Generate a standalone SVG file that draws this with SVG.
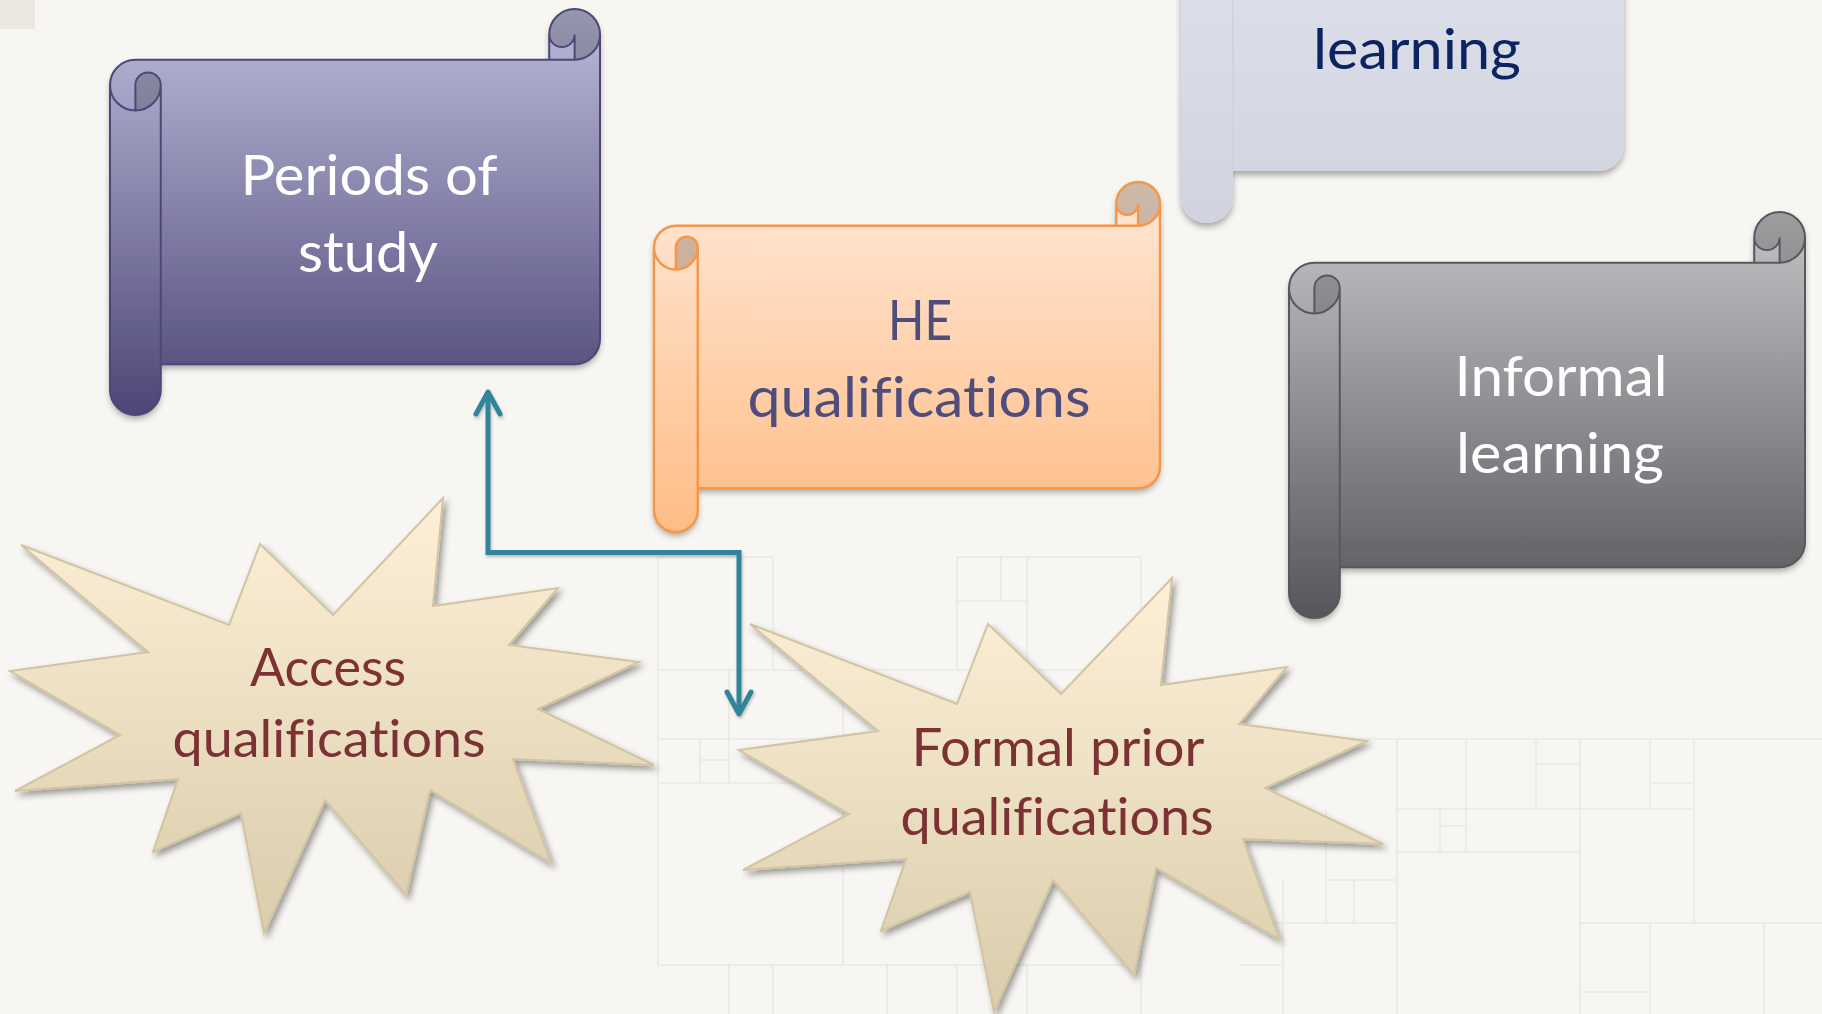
<svg xmlns="http://www.w3.org/2000/svg" width="1822" height="1014" viewBox="0 0 1822 1014">
<defs>
<style>
.grid line{stroke:#eae9e5;stroke-width:1.6}
.lbl{font-family:Lato,"Open Sans","Liberation Sans",sans-serif;text-anchor:middle;font-variant-ligatures:none;font-feature-settings:"liga" 0}
.sc{font-size:57px}
.st{font-size:52px;fill:#7c3234}
.conn{fill:none;stroke:#31849b;stroke-width:5;stroke-linejoin:miter}
</style>
<filter id="shd" x="-10%" y="-10%" width="125%" height="125%"><feDropShadow dx="0" dy="4" stdDeviation="3" flood-color="#000" flood-opacity="0.33"/></filter>
<filter id="shs" x="-10%" y="-10%" width="125%" height="125%"><feDropShadow dx="3" dy="4" stdDeviation="3" flood-color="#000" flood-opacity="0.38"/></filter>
<filter id="shc" x="-10%" y="-10%" width="125%" height="125%"><feDropShadow dx="1" dy="2" stdDeviation="1.5" flood-color="#000" flood-opacity="0.25"/></filter>
<linearGradient id="g1" gradientUnits="userSpaceOnUse" x1="0" y1="0" x2="0" y2="406"><stop offset="0" stop-color="#bcbbda"/><stop offset="1" stop-color="#4d4676"/></linearGradient>
<linearGradient id="g1d" gradientUnits="userSpaceOnUse" x1="0" y1="0" x2="0" y2="406"><stop offset="0" stop-color="#9696ae"/><stop offset="1" stop-color="#3e385e"/></linearGradient>
<linearGradient id="g2" gradientUnits="userSpaceOnUse" x1="0" y1="0" x2="0" y2="350"><stop offset="0" stop-color="#ffe7d6"/><stop offset="1" stop-color="#ffbd86"/></linearGradient>
<linearGradient id="g2d" gradientUnits="userSpaceOnUse" x1="0" y1="0" x2="0" y2="350"><stop offset="0" stop-color="#ccb9ab"/><stop offset="1" stop-color="#cc976b"/></linearGradient>
<linearGradient id="g3" gradientUnits="userSpaceOnUse" x1="0" y1="0" x2="0" y2="406"><stop offset="0" stop-color="#c3c4c6"/><stop offset="1" stop-color="#55565a"/></linearGradient>
<linearGradient id="g3d" gradientUnits="userSpaceOnUse" x1="0" y1="0" x2="0" y2="406"><stop offset="0" stop-color="#9c9d9e"/><stop offset="1" stop-color="#444548"/></linearGradient>
<linearGradient id="g4" gradientUnits="userSpaceOnUse" x1="0" y1="0" x2="0" y2="417"><stop offset="0" stop-color="#e4e6f0"/><stop offset="1" stop-color="#d1d4e0"/></linearGradient>
<linearGradient id="gs" x1="0" y1="0" x2="0" y2="1"><stop offset="0" stop-color="#fdf0d7"/><stop offset="1" stop-color="#dacdac"/></linearGradient>
<marker id="arr" markerUnits="userSpaceOnUse" markerWidth="34" markerHeight="34" refX="26" refY="17" orient="auto-start-reverse" overflow="visible"><path d="M4,5 L26,17 L4,29" fill="none" stroke="#31849b" stroke-width="5" stroke-linecap="round" stroke-linejoin="round"/></marker>
</defs>
<rect width="1822" height="1014" fill="#f7f6f2"/>
<rect x="0" y="0" width="35" height="29" fill="#ece8df"/>
<g class="grid">
<line x1="658" y1="557" x2="658" y2="965"/><line x1="773" y1="557" x2="773" y2="670"/>
<line x1="658" y1="557" x2="773" y2="557"/><line x1="957" y1="557" x2="1141" y2="557"/>
<line x1="957" y1="557" x2="957" y2="670"/><line x1="1001" y1="557" x2="1001" y2="601"/>
<line x1="1027" y1="557" x2="1027" y2="670"/><line x1="957" y1="601" x2="1027" y2="601"/>
<line x1="1141" y1="557" x2="1141" y2="965"/><line x1="658" y1="670" x2="1141" y2="670"/>
<line x1="658" y1="739" x2="843" y2="739"/><line x1="729" y1="670" x2="729" y2="783"/>
<line x1="843" y1="670" x2="843" y2="965"/><line x1="658" y1="783" x2="843" y2="783"/>
<line x1="700" y1="739" x2="700" y2="783"/><line x1="700" y1="760" x2="729" y2="760"/>
<line x1="658" y1="965" x2="1141" y2="965"/><line x1="729" y1="965" x2="729" y2="1014"/>
<line x1="773" y1="965" x2="773" y2="1014"/><line x1="887" y1="965" x2="887" y2="1014"/>
<line x1="957" y1="965" x2="957" y2="1014"/><line x1="1027" y1="965" x2="1027" y2="1014"/>
<line x1="1141" y1="965" x2="1141" y2="1014"/>
<line x1="1240" y1="739" x2="1822" y2="739"/><line x1="1397" y1="809" x2="1694" y2="809"/>
<line x1="1397" y1="852" x2="1580" y2="852"/><line x1="1240" y1="923" x2="1397" y2="923"/>
<line x1="1580" y1="923" x2="1822" y2="923"/><line x1="1580" y1="992" x2="1650" y2="992"/>
<line x1="1397" y1="739" x2="1397" y2="1014"/><line x1="1466" y1="739" x2="1466" y2="852"/>
<line x1="1536" y1="739" x2="1536" y2="809"/><line x1="1580" y1="739" x2="1580" y2="1014"/>
<line x1="1650" y1="739" x2="1650" y2="809"/><line x1="1650" y1="923" x2="1650" y2="1014"/>
<line x1="1694" y1="739" x2="1694" y2="923"/><line x1="1764" y1="923" x2="1764" y2="1014"/>
<line x1="1283" y1="880" x2="1283" y2="1014"/><line x1="1326" y1="810" x2="1326" y2="923"/>
<line x1="1326" y1="880" x2="1397" y2="880"/><line x1="1354" y1="880" x2="1354" y2="923"/>
<line x1="1536" y1="764" x2="1580" y2="764"/><line x1="1650" y1="783" x2="1694" y2="783"/>
<line x1="1440" y1="809" x2="1440" y2="852"/><line x1="1440" y1="826" x2="1466" y2="826"/>
<line x1="1240" y1="965" x2="1283" y2="965"/>
</g>
<g id="connectors" filter="url(#shc)">
<path class="conn" d="M488,392 L488,552.5 L739,552.5 L739,714" marker-start="url(#arr)" marker-end="url(#arr)"/>
</g>
<g id="node-prior-learning" transform="translate(1181,-194)">
<g filter="url(#shd)">
<path fill="url(#g4)" d="M443,26 A26,26 0 0 1 417,52 L417,26 A13,13 0 0 1 391,26 L391,52 L26,52 A26,26 0 0 0 0,78 L0,391 A26,26 0 0 0 52,391 L52,365 L417,365 A26,26 0 0 0 443,339 Z"/>
</g>
<path fill="none" stroke="#cdd0dc" stroke-width="1.5" d="M52,78 L52,365"/>
<text class="lbl sc" x="236" y="263" fill="#0d2462" textLength="208" lengthAdjust="spacingAndGlyphs">learning</text>
</g>
<g id="node-periods" transform="translate(110,9)">
<g filter="url(#shd)">
<path fill="url(#g1)" d="M490,25.375 A25.375,25.375 0 0 1 464.625,50.75 L464.625,25.375 A12.6875,12.6875 0 0 1 439.25,25.375 L439.25,50.75 L25.375,50.75 A25.375,25.375 0 0 0 0,76.125 L0,380.625 A25.375,25.375 0 0 0 50.75,380.625 L50.75,355.25 L464.625,355.25 A25.375,25.375 0 0 0 490,329.875 Z"/>
<path fill="url(#g1d)" d="M25.375,101.5 A25.375,25.375 0 0 0 50.75,76.125 A12.6875,12.6875 0 0 0 25.375,76.125 Z M464.625,50.75 A25.375,25.375 0 1 0 439.25,25.375 A12.6875,12.6875 0 0 0 464.625,25.375 Z"/>
</g>
<path fill="none" stroke="#4c4777" stroke-width="2" d="M0,76.125 A25.375,25.375 0 0 1 25.375,50.75 L439.25,50.75 L439.25,25.375 A25.375,25.375 0 0 1 490,25.375 L490,329.875 A25.375,25.375 0 0 1 464.625,355.25 L50.75,355.25 L50.75,380.625 A25.375,25.375 0 0 1 0,380.625 Z M439.25,50.75 L464.625,50.75 A25.375,25.375 0 0 0 490,25.375 M464.625,50.75 L464.625,25.375 A12.6875,12.6875 0 0 1 439.25,25.375 M25.375,101.5 L25.375,76.125 A12.6875,12.6875 0 0 1 50.75,76.125 A25.375,25.375 0 0 1 0,76.125 M50.75,76.125 L50.75,355.25"/>
<text class="lbl sc" fill="#ffffff"><tspan x="259" y="186" textLength="257" lengthAdjust="spacingAndGlyphs">Periods of</tspan><tspan x="258" y="263" textLength="140" lengthAdjust="spacingAndGlyphs">study</tspan></text>
</g>
<g id="node-he" transform="translate(654,182)">
<g filter="url(#shd)">
<path fill="url(#g2)" d="M506,21.875 A21.875,21.875 0 0 1 484.125,43.75 L484.125,21.875 A10.9375,10.9375 0 0 1 462.25,21.875 L462.25,43.75 L21.875,43.75 A21.875,21.875 0 0 0 0,65.625 L0,328.125 A21.875,21.875 0 0 0 43.75,328.125 L43.75,306.25 L484.125,306.25 A21.875,21.875 0 0 0 506,284.375 Z"/>
<path fill="url(#g2d)" d="M21.875,87.5 A21.875,21.875 0 0 0 43.75,65.625 A10.9375,10.9375 0 0 0 21.875,65.625 Z M484.125,43.75 A21.875,21.875 0 1 0 462.25,21.875 A10.9375,10.9375 0 0 0 484.125,21.875 Z"/>
</g>
<path fill="none" stroke="#f79646" stroke-width="2.4" d="M0,65.625 A21.875,21.875 0 0 1 21.875,43.75 L462.25,43.75 L462.25,21.875 A21.875,21.875 0 0 1 506,21.875 L506,284.375 A21.875,21.875 0 0 1 484.125,306.25 L43.75,306.25 L43.75,328.125 A21.875,21.875 0 0 1 0,328.125 Z M462.25,43.75 L484.125,43.75 A21.875,21.875 0 0 0 506,21.875 M484.125,43.75 L484.125,21.875 A10.9375,10.9375 0 0 1 462.25,21.875 M21.875,87.5 L21.875,65.625 A10.9375,10.9375 0 0 1 43.75,65.625 A21.875,21.875 0 0 1 0,65.625 M43.75,65.625 L43.75,306.25"/>
<text class="lbl sc" fill="#4f4d7b"><tspan x="266" y="158" textLength="64" lengthAdjust="spacingAndGlyphs">HE</tspan><tspan x="265" y="235" textLength="343" lengthAdjust="spacingAndGlyphs">qualifications</tspan></text>
</g>
<g id="node-informal" transform="translate(1289,212)">
<g filter="url(#shd)">
<path fill="url(#g3)" d="M516,25.375 A25.375,25.375 0 0 1 490.625,50.75 L490.625,25.375 A12.6875,12.6875 0 0 1 465.25,25.375 L465.25,50.75 L25.375,50.75 A25.375,25.375 0 0 0 0,76.125 L0,380.625 A25.375,25.375 0 0 0 50.75,380.625 L50.75,355.25 L490.625,355.25 A25.375,25.375 0 0 0 516,329.875 Z"/>
<path fill="url(#g3d)" d="M25.375,101.5 A25.375,25.375 0 0 0 50.75,76.125 A12.6875,12.6875 0 0 0 25.375,76.125 Z M490.625,50.75 A25.375,25.375 0 1 0 465.25,25.375 A12.6875,12.6875 0 0 0 490.625,25.375 Z"/>
</g>
<path fill="none" stroke="#57585b" stroke-width="2" d="M0,76.125 A25.375,25.375 0 0 1 25.375,50.75 L465.25,50.75 L465.25,25.375 A25.375,25.375 0 0 1 516,25.375 L516,329.875 A25.375,25.375 0 0 1 490.625,355.25 L50.75,355.25 L50.75,380.625 A25.375,25.375 0 0 1 0,380.625 Z M465.25,50.75 L490.625,50.75 A25.375,25.375 0 0 0 516,25.375 M490.625,50.75 L490.625,25.375 A12.6875,12.6875 0 0 1 465.25,25.375 M25.375,101.5 L25.375,76.125 A12.6875,12.6875 0 0 1 50.75,76.125 A25.375,25.375 0 0 1 0,76.125 M50.75,76.125 L50.75,355.25"/>
<text class="lbl sc" fill="#ffffff"><tspan x="272" y="184" textLength="213" lengthAdjust="spacingAndGlyphs">Informal</tspan><tspan x="271" y="261" textLength="208" lengthAdjust="spacingAndGlyphs">learning</tspan></text>
</g>
<g id="node-access">
<polygon filter="url(#shs)" fill="url(#gs)" stroke="#d2c3a2" stroke-width="2" stroke-linejoin="miter" points="21,545 229,625 260,544 333,615 443,498 433,606 558,588 509,645 639,662 538,709 654,765 513,759 551,863 430,790 406,895 325,800 264,933 241,813 153,852 178,779 15,791 120,735 10,671 148,652"/>
<text class="lbl st"><tspan x="328" y="686" textLength="156" lengthAdjust="spacingAndGlyphs">Access</tspan><tspan x="329" y="757" textLength="313" lengthAdjust="spacingAndGlyphs">qualifications</tspan></text>
</g>
<g id="node-formal">
<polygon filter="url(#shs)" fill="url(#gs)" stroke="#d2c3a2" stroke-width="2" stroke-linejoin="miter" points="750,624 957,704 988,624 1061,694 1172,578 1161,685 1287,667 1239,724 1367,741 1265,788 1383,844 1243,839 1279,939 1156,868 1134,975 1053,880 994,1012 970,892 881,931 906,859 743,870 849,814 739,750 878,731"/>
<text class="lbl st"><tspan x="1058" y="766" textLength="293" lengthAdjust="spacingAndGlyphs">Formal prior</tspan><tspan x="1057" y="835" textLength="313" lengthAdjust="spacingAndGlyphs">qualifications</tspan></text>
</g>
</svg>
